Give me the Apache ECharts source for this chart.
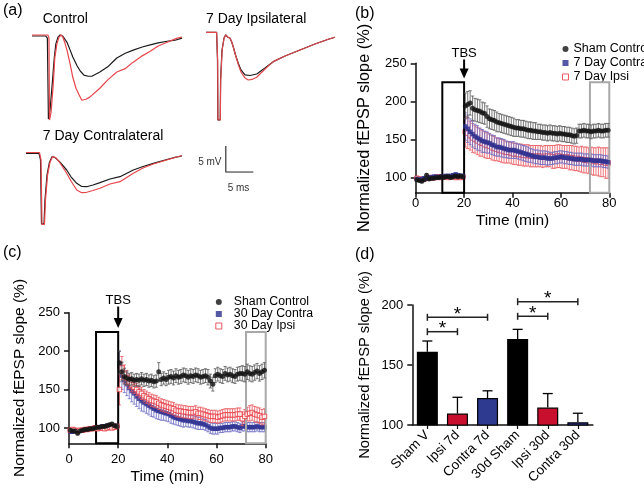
<!DOCTYPE html>
<html><head><meta charset="utf-8">
<script src="https://cdn.jsdelivr.net/npm/echarts@6/dist/echarts.min.js"></script>
<style>html,body{margin:0;padding:0;background:#fff}#c{width:644px;height:488px}</style>
</head><body><div id="c"></div>
<script>
// ================= DATA =================
// (a) representative fEPSP traces: [time (ms), voltage (mV)]
const ctrlBlack = [[0,0],[2.6,0],[2.9,-0.4],[3.1,-15.9],[3.4,-14.2],[3.8,-9.4],[4.2,-4.2],[4.5,-1.5],[4.9,-0.2],[5.3,0.2],[5.8,0],[6.6,-1.2],[7.2,-2.7],[7.7,-4.0],[8.5,-5.7],[9.1,-6.7],[9.8,-7.5],[10.6,-7.7],[11.3,-7.7],[12.8,-6.9],[14.3,-5.9],[16.0,-4.2],[17.6,-3.3],[19.1,-2.7],[20.8,-2.1],[22.3,-1.7],[23.8,-1.3],[25.5,-1.0],[27.0,-0.8],[28.3,-0.4]];
const ctrlRed = [[0,0.2],[3.0,0.2],[3.2,-0.4],[3.3,-16.1],[3.6,-14.6],[4.0,-9.4],[4.3,-4.2],[4.7,-1.5],[5.1,-0.2],[5.5,0.2],[5.8,-0.2],[6.2,-1.3],[6.6,-2.7],[7.2,-5.4],[7.7,-7.9],[8.3,-10.0],[8.9,-11.3],[9.4,-12.3],[10.2,-12.1],[10.9,-11.7],[12.8,-10.0],[14.3,-8.4],[16.0,-6.9],[17.5,-6.3],[19.1,-5.0],[20.8,-3.8],[22.3,-2.9],[23.8,-1.9],[25.5,-1.2],[27.4,-0.4],[28.3,-0.2]];
const ipsiBlack = [[0,0],[2.0,0],[2.17,-5.3],[2.23,-16.8],[2.68,-16.8],[2.75,-9.1],[3.02,-3.4],[3.40,-1.1],[3.72,-0.5],[4.06,-0.9],[4.53,-1.15],[4.85,-1.86],[5.15,-2.82],[5.57,-4.35],[6.09,-5.94],[6.60,-7.22],[7.36,-8.18],[8.30,-8.28],[9.57,-7.99],[11.13,-6.84],[12.70,-5.63],[14.91,-4.54],[17.74,-3.39],[20.57,-2.24],[23.08,-1.34],[24.34,-0.96]];
const ipsiRed = [[0,0],[2.0,0],[2.2,-5.3],[2.26,-16.8],[2.7,-16.8],[2.78,-9.1],[3.05,-3.4],[3.42,-1.1],[3.74,-0.5],[4.08,-0.9],[4.55,-1.15],[4.87,-1.9],[5.17,-2.9],[5.59,-4.45],[6.09,-6.17],[6.60,-7.61],[7.36,-8.75],[7.98,-9.14],[8.68,-9.04],[9.57,-8.62],[11.13,-7.03],[12.70,-5.63],[14.91,-4.54],[17.74,-3.39],[20.57,-2.24],[23.08,-1.34],[24.34,-0.96]];
const contraBlack = [[0,0],[2.45,0],[2.74,-1.28],[2.92,-13.5],[3.40,-13.5],[3.58,-8.9],[3.96,-4.2],[4.43,-1.7],[4.91,-0.65],[5.47,-0.8],[6.42,-1.7],[7.68,-3.2],[8.49,-4.5],[9.57,-5.75],[10.51,-6.36],[11.45,-6.4],[12.64,-6.07],[13.96,-5.63],[15.85,-4.92],[17.74,-4.48],[20.25,-3.2],[22.08,-2.53],[24.02,-1.92],[26.23,-1.28],[28.11,-0.8],[29.43,-0.52]];
const contraRed = [[0,0.15],[2.55,0.15],[2.83,-1.28],[3.02,-13.6],[3.49,-13.6],[3.68,-8.9],[4.06,-4.2],[4.53,-1.7],[5.0,-0.65],[5.57,-0.8],[6.42,-1.86],[7.68,-3.83],[8.49,-5.31],[9.57,-7.03],[10.51,-7.55],[11.45,-7.47],[12.64,-7.13],[13.96,-6.7],[15.85,-5.88],[17.74,-5.44],[20.25,-3.83],[22.08,-2.82],[24.02,-2.05],[26.23,-1.38],[28.11,-0.8],[29.43,-0.42]];
const scaleBar = [[0,5],[0,0],[5,0]];   // 5 mV x 5 ms

// (b), (c) time course: recording times (min)
const times = [0.5,1.5,2.5,3.5,4.5,5.5,6.5,7.5,8.5,9.5,10.5,11.5,12.5,13.5,14.5,15.5,16.5,17.5,18.5,19.5,
20.5,21.5,22.5,23.5,24.5,25.5,26.5,27.5,28.5,29.5,30.5,31.5,32.5,33.5,34.5,35.5,36.5,37.5,38.5,39.5,
40.5,41.5,42.5,43.5,44.5,45.5,46.5,47.5,48.5,49.5,50.5,51.5,52.5,53.5,54.5,55.5,56.5,57.5,58.5,59.5,
60.5,61.5,62.5,63.5,64.5,65.5,66.5,67.5,68.5,69.5,70.5,71.5,72.5,73.5,74.5,75.5,76.5,77.5,78.5,79.5];

// (b) 7 day
const shamB = [97,96,95,97,103,98,99,99,100,100,101,100,101,101,100,101,102,101,102,101,
194,196,198,191,189,188,187,185,184,180,177,176,175,173,172,171,170,169,168,167,
166,165,165,164,164,163,162,162,161,161,160,160,159,159,158,159,158,158,157,158,
157,157,156,156,155,154,155,161,161,162,161,161,160,161,161,162,161,161,162,162];
const shamBErr = [2,2,2,2,2,2,2,2,2,2,2,2,2,2,2,2,2,2,2,2,
17,17,16,16,15,15,15,14,14,14,13,13,13,13,12,12,12,12,12,12,
12,11,11,11,11,11,11,11,11,11,10,10,10,10,10,10,10,10,10,10,
10,10,10,10,10,10,10,9,9,9,9,9,9,9,9,9,9,9,9,9];
const contraB = [98,97,98,99,99,100,100,101,101,100,101,101,102,102,102,103,104,103,102,102,
167,164,160,157,154,152,150,148,147,146,145,143,142,140,140,139,138,137,136,136,
136,135,134,133,132,131,130,129,128,127,127,126,126,126,125,125,125,126,126,127,
127,126,126,125,125,124,124,124,124,123,123,123,123,122,122,122,122,121,121,120];
const contraBErr = [2,2,2,2,2,2,2,2,2,2,2,2,2,2,2,2,2,2,2,2,
18,18,17,17,16,16,15,15,14,14,13,13,13,12,12,12,12,11,11,11,
11,10,10,10,10,10,10,9,9,9,9,9,9,9,9,8,8,8,8,8,
8,8,8,8,8,8,8,8,8,8,8,8,8,8,8,8,8,8,8,8];
const ipsiB = [99,98,97,98,99,100,99,100,100,101,100,101,101,100,101,101,100,101,100,101,
160,158,155,152,150,148,146,145,143,142,141,139,138,137,136,135,134,133,133,132,
131,131,130,130,129,129,129,128,128,128,128,128,127,128,128,128,127,127,128,128,
127,127,127,126,126,125,125,124,124,123,123,122,122,121,121,121,120,120,119,119];
const ipsiBErr = [2,2,2,2,2,2,2,2,2,2,2,2,2,2,2,2,2,2,2,2,
20,20,19,19,18,18,18,17,17,17,16,16,16,15,15,15,15,14,14,14,
14,14,14,14,14,14,14,14,14,14,14,14,14,14,14,14,15,15,15,15,
15,15,15,16,16,16,16,16,17,17,17,17,18,18,18,19,19,19,20,20];

// (c) 30 day
const shamC = [97,96,96,93,96,97,98,98,99,99,100,101,101,102,102,103,104,105,103,102,
185,173,167,165,163,164,162,163,162,164,162,163,161,162,160,161,173,163,165,163,
166,167,165,168,166,167,169,168,166,168,167,169,168,166,167,168,166,161,157,168,
170,168,167,171,169,170,168,167,170,171,171,170,173,171,170,172,174,171,173,175];
const shamCErr = [2,2,2,2,2,2,2,2,2,2,2,2,2,2,2,2,2,2,2,2,
15,12,10,9,8,8,8,8,8,8,8,8,8,8,8,8,12,8,8,8,
9,9,9,9,9,9,9,9,9,9,9,9,9,9,9,9,10,9,9,9,
9,9,9,9,9,9,9,9,9,9,10,10,10,10,10,10,10,10,10,10];
const contraC = [95,95,96,96,97,97,98,98,99,99,100,101,101,102,102,103,103,102,102,103,
180,168,162,157,152,148,145,141,138,135,133,131,129,127,125,123,122,121,120,119,
118,116,114,113,112,111,110,110,109,109,108,107,106,106,105,104,102,100,99,99,
99,100,100,101,101,101,102,102,101,100,102,102,101,101,101,101,102,101,101,101];
const contraCErr = [2,2,2,2,2,2,2,2,2,2,2,2,2,2,2,2,2,2,2,2,
20,18,16,15,14,14,14,13,13,13,12,12,12,12,11,11,11,11,10,10,
10,10,9,9,9,9,9,8,8,8,8,8,8,8,7,7,7,7,7,7,
7,6,6,6,6,6,6,6,6,6,6,6,6,6,6,6,6,6,6,6];
const ipsiC = [97,98,97,96,97,97,98,98,99,99,100,99,100,100,99,100,101,100,101,102,
150,178,170,165,160,156,153,150,147,145,142,140,138,136,135,134,132,130,129,128,
127,126,125,123,122,122,121,121,120,120,120,121,119,119,118,117,116,115,115,115,
114,115,116,117,117,117,117,117,118,118,112,115,118,119,120,118,117,116,114,115];
const ipsiCErr = [2,2,2,2,2,2,2,2,2,2,2,2,2,2,2,2,2,2,2,2,
20,15,12,10,9,9,8,8,8,8,8,8,8,8,8,8,8,8,8,8,
8,8,8,8,8,8,8,8,8,8,8,8,8,8,8,8,8,8,8,8,
8,8,8,8,8,8,8,8,8,8,9,9,9,10,10,10,10,10,10,10];

// annotation windows (min) and TBS time
const baselineWin = [11, 20];
const ltpWin = [72, 80];
const boxTop = 225;
const tbsTime = 20;
const arrowB = [255, 230];
const arrowC = [258, 230];

// (d) summary bars
const groups = ['Sham V', 'Ipsi 7d', 'Contra 7d', '30d Sham', 'Ipsi 30d', 'Contra 30d'];
const means = [161, 109.5, 122.5, 171.7, 114.5, 102.3];
const sems = [9, 13.6, 6, 8, 11.7, 7.5];
const brackets = [[0, 1, 177.75], [0, 2, 189.75], [3, 4, 190.6], [3, 5, 202.75]];
const yTicksBC = [100, 150, 200, 250];

// ================= STYLE / BUILD =================
const FF = "'Liberation Sans', Arial, Helvetica, sans-serif";
const BLACK = '#111', BLUE = '#2a2e8e', RED = '#e8333c';
const barColors = ['#000', '#c8102e', '#2e3a8f', '#000', '#c8102e', '#2e3a8f'];

const chart = echarts.init(document.getElementById('c'), null, {renderer: 'canvas'});

function hiddenAxes(i, xr, yr) {
  return [
    {type: 'value', gridIndex: i, min: xr[0], max: xr[1], show: false},
    {type: 'value', gridIndex: i, min: yr[0], max: yr[1], show: false}
  ];
}
function trace(i, data, color, z) {
  return {type: 'line', xAxisIndex: i, yAxisIndex: i, data: data, showSymbol: false, symbol: 'none',
    lineStyle: {color: color, width: 1.2}, z: z, silent: true, animation: false};
}
function errSeries(ai, means, errs, color, z) {
  return {type: 'custom', xAxisIndex: ai, yAxisIndex: ai, silent: true, z: z, animation: false,
    data: times.map((t, i) => [t, means[i] - errs[i], means[i] + errs[i]]),
    encode: {x: 0, y: [1, 2]},
    renderItem: function (p, api) {
      const a = api.coord([api.value(0), api.value(2)]);
      const b = api.coord([api.value(0), api.value(1)]);
      const w = 1.6, st = {stroke: color, lineWidth: 0.8};
      return {type: 'group', children: [
        {type: 'line', shape: {x1: a[0], y1: a[1], x2: b[0], y2: b[1]}, style: st},
        {type: 'line', shape: {x1: a[0] - w, y1: a[1], x2: a[0] + w, y2: a[1]}, style: st},
        {type: 'line', shape: {x1: b[0] - w, y1: b[1], x2: b[0] + w, y2: b[1]}, style: st}
      ]};
    }};
}
function pts(ai, name, vals, kind, z) {
  const s = {type: 'scatter', name: name, xAxisIndex: ai, yAxisIndex: ai, z: z, animation: false,
    data: times.map((t, i) => [t, vals[i]])};
  if (kind === 'sham') { s.symbol = 'circle'; s.symbolSize = 5; s.itemStyle = {color: BLACK}; }
  if (kind === 'contra') { s.symbol = 'rect'; s.symbolSize = 4.5; s.itemStyle = {color: BLUE}; }
  if (kind === 'ipsi') { s.symbol = 'rect'; s.symbolSize = 4.5; s.itemStyle = {color: '#fff', borderColor: RED, borderWidth: 1}; }
  return s;
}
function boxes(ai) {
  return {type: 'custom', xAxisIndex: ai, yAxisIndex: ai, silent: true, z: 5, animation: false,
    data: [[baselineWin[0], baselineWin[1], boxTop, 0], [ltpWin[0], ltpWin[1], boxTop, 1]],
    encode: {x: [0, 1], y: 2},
    renderItem: function (p, api) {
      const a = api.coord([api.value(0), api.value(2)]);
      const b = api.coord([api.value(1), 80]);
      const gray = api.value(3) === 1;
      return {type: 'rect', shape: {x: a[0], y: a[1], width: b[0] - a[0], height: b[1] - a[1]},
        style: {fill: 'none', stroke: gray ? '#a8a8a8' : '#000', lineWidth: 2}};
    }};
}
function tbs(ai, arr) {
  return {type: 'custom', xAxisIndex: ai, yAxisIndex: ai, silent: true, z: 6, animation: false,
    data: [[tbsTime, arr[0], arr[1]]], encode: {x: 0, y: [1, 2]},
    renderItem: function (p, api) {
      const top = api.coord([api.value(0), api.value(1)]);
      const tip = api.coord([api.value(0), api.value(2)]);
      return {type: 'group', children: [
        {type: 'line', shape: {x1: top[0], y1: top[1], x2: tip[0], y2: tip[1] - 8}, style: {stroke: '#000', lineWidth: 2}},
        {type: 'polygon', shape: {points: [[tip[0] - 4.5, tip[1] - 10], [tip[0] + 4.5, tip[1] - 10], [tip[0], tip[1]]]}, style: {fill: '#000'}},
        {type: 'text', style: {text: 'TBS', x: top[0], y: top[1] - 6, align: 'center', verticalAlign: 'middle', font: '13px ' + FF, fill: '#000'}}
      ]};
    }};
}
function timeAxes(i, labelMargin, nameGapX, nameGapY, nameSizeY) {
  const axisLineStyle = {color: '#111', width: 1.5};
  return [
    {type: 'value', gridIndex: i, min: 0, max: 80, interval: 20,
      axisLine: {show: true, onZero: false, lineStyle: axisLineStyle},
      axisTick: {show: true, length: 5, lineStyle: axisLineStyle},
      axisLabel: {fontSize: 13, margin: labelMargin, color: '#000', fontFamily: FF},
      splitLine: {show: false},
      name: 'Time (min)', nameLocation: 'middle', nameGap: nameGapX,
      nameTextStyle: {fontSize: 15.5, color: '#000', fontFamily: FF}},
    {type: 'value', gridIndex: i, min: 80, max: 250,
      axisLine: {show: true, onZero: false, lineStyle: axisLineStyle},
      axisTick: {show: true, length: 5, lineStyle: axisLineStyle, customValues: yTicksBC},
      axisLabel: {fontSize: 13, margin: 9, color: '#000', fontFamily: FF, customValues: yTicksBC},
      splitLine: {show: false},
      name: 'Normalized fEPSP slope (%)', nameLocation: 'middle', nameGap: nameGapY,
      nameTextStyle: {fontSize: nameSizeY, color: '#000', fontFamily: FF}}
  ];
}

const axB = timeAxes(4, 4, 20, 43, 16.3);
const axC = timeAxes(5, 10, 25, 41, 15.5);

const ax0 = hiddenAxes(0, [0, 29], [-17, 1]);
const ax1 = hiddenAxes(1, [0, 25], [-17, 0.8]);
const ax2 = hiddenAxes(2, [0, 30], [-14, 0.8]);
const ax3 = hiddenAxes(3, [0, 5], [0, 5]);

const axD = [
  {type: 'category', gridIndex: 6, data: groups, boundaryGap: true,
    axisLine: {show: true, lineStyle: {color: '#111', width: 1.5}},
    axisTick: {show: true, alignWithLabel: true, length: 4, lineStyle: {color: '#111', width: 1.2}},
    axisLabel: {rotate: 45, interval: 0, fontSize: 13.5, margin: 8, color: '#000', fontFamily: FF}},
  {type: 'value', gridIndex: 6, min: 100, max: 200, interval: 50,
    axisLine: {show: true, lineStyle: {color: '#111', width: 1.5}},
    axisTick: {show: true, length: 5, lineStyle: {color: '#111', width: 1.5}},
    axisLabel: {fontSize: 13, margin: 9, color: '#000', fontFamily: FF},
    splitLine: {show: false},
    name: 'Normalized fEPSP slope (%)', nameLocation: 'middle', nameGap: 40,
    nameTextStyle: {fontSize: 14.7, color: '#000', fontFamily: FF}}
];

const g = (l, t, w, h) => ({left: l, top: t, width: w, height: h, containLabel: false, outerBoundsMode: 'none'});

const legendCommon = {orient: 'vertical', selectedMode: false, itemWidth: 6, itemHeight: 6, itemGap: 0};

const option = {
  animation: false,
  backgroundColor: '#fff',
  textStyle: {fontFamily: FF},
  grid: [
    g(32, 30.8, 153.7, 94),
    g(206, 28.1, 132.5, 92.9),
    g(26, 149.1, 159, 77.3),
    g(225.8, 146, 27.5, 26.2),
    g(415.7, 63.3, 193.6, 129.4),
    g(69, 312.7, 196.7, 130.6),
    g(412.3, 305, 180.6, 120)
  ],
  xAxis: [ax0[0], ax1[0], ax2[0], ax3[0], axB[0], axC[0], axD[0]],
  yAxis: [ax0[1], ax1[1], ax2[1], ax3[1], axB[1], axC[1], axD[1]],
  legend: [
    Object.assign({}, legendCommon, {left: 557, top: 37,
      textStyle: {fontSize: 12.5, lineHeight: 14, color: '#000', fontFamily: FF},
      data: [{name: 'Sham Control', icon: 'circle', itemStyle: {color: BLACK}},
             {name: '7 Day Contra', icon: 'rect', itemStyle: {color: BLUE}},
             {name: '7 Day Ipsi', icon: 'rect', itemStyle: {color: '#fff', borderColor: RED, borderWidth: 1}}]}),
    Object.assign({}, legendCommon, {left: 210.3, top: 291,
      textStyle: {fontSize: 12.3, lineHeight: 11.7, color: '#000', fontFamily: FF, padding: [0, 0, 0, 7]},
      data: [{name: 'Sham Control', icon: 'circle', itemStyle: {color: BLACK}},
             {name: '30 Day Contra', icon: 'rect', itemStyle: {color: BLUE}},
             {name: '30 Day Ipsi', icon: 'rect', itemStyle: {color: '#fff', borderColor: RED, borderWidth: 1}}]})
  ],
  graphic: [
    {type: 'text', x: 3, y: 11, style: {text: '(a)', font: '16px ' + FF, fill: '#000', verticalAlign: 'middle'}},
    {type: 'text', x: 355, y: 13.3, style: {text: '(b)', font: '16px ' + FF, fill: '#000', verticalAlign: 'middle'}},
    {type: 'text', x: 3, y: 253, style: {text: '(c)', font: '16px ' + FF, fill: '#000', verticalAlign: 'middle'}},
    {type: 'text', x: 355, y: 255, style: {text: '(d)', font: '16px ' + FF, fill: '#000', verticalAlign: 'middle'}},
    {type: 'text', x: 42.7, y: 19.3, style: {text: 'Control', font: '14px ' + FF, fill: '#000', verticalAlign: 'middle'}},
    {type: 'text', x: 206, y: 19.3, style: {text: '7 Day Ipsilateral', font: '14px ' + FF, fill: '#000', verticalAlign: 'middle'}},
    {type: 'text', x: 42.7, y: 136, style: {text: '7 Day Contralateral', font: '14px ' + FF, fill: '#000', verticalAlign: 'middle'}},
    {type: 'text', x: 221.5, y: 162.7, style: {text: '5 mV', font: '10px ' + FF, fill: '#333', align: 'right', verticalAlign: 'middle'}},
    {type: 'text', x: 227.7, y: 188.3, style: {text: '5 ms', font: '10px ' + FF, fill: '#333', verticalAlign: 'middle'}}
  ],
  series: [
    trace(0, ctrlBlack, '#1a1a1a', 2), trace(0, ctrlRed, '#e8454a', 3),
    trace(1, ipsiBlack, '#1a1a1a', 2), trace(1, ipsiRed, '#e0484c', 3),
    trace(2, contraBlack, '#1a1a1a', 2), trace(2, contraRed, '#e8454a', 3),
    {type: 'line', xAxisIndex: 3, yAxisIndex: 3, data: scaleBar, showSymbol: false, symbol: 'none',
      lineStyle: {color: '#333', width: 1.2}, silent: true},

    // (b)
    errSeries(4, ipsiB, ipsiBErr, '#e8555c', 2), pts(4, '7 Day Ipsi', ipsiB, 'ipsi', 3),
    errSeries(4, contraB, contraBErr, '#6a6ac4', 4), pts(4, '7 Day Contra', contraB, 'contra', 5),
    errSeries(4, shamB, shamBErr, '#555', 6), pts(4, 'Sham Control', shamB, 'sham', 7),
    boxes(4), tbs(4, arrowB),

    // (c)
    errSeries(5, contraC, contraCErr, '#6a6ac4', 2), pts(5, '30 Day Contra', contraC, 'contra', 3),
    errSeries(5, ipsiC, ipsiCErr, '#e8555c', 4), pts(5, '30 Day Ipsi', ipsiC, 'ipsi', 5),
    errSeries(5, shamC, shamCErr, '#555', 6), pts(5, 'Sham Control', shamC, 'sham', 7),
    boxes(5), tbs(5, arrowC),

    // (d)
    {type: 'bar', xAxisIndex: 6, yAxisIndex: 6, barWidth: 21, z: 3,
      data: means.map((v, i) => ({value: v, itemStyle: {color: barColors[i], borderColor: '#000', borderWidth: 1.2}}))},
    {type: 'custom', xAxisIndex: 6, yAxisIndex: 6, silent: true, z: 2,
      data: means.map((v, i) => [i, v, v + sems[i]]), encode: {x: 0, y: [1, 2]},
      renderItem: function (p, api) {
        const a = api.coord([api.value(0), api.value(2)]);
        const b = api.coord([api.value(0), api.value(1)]);
        const st = {stroke: '#000', lineWidth: 1.3};
        return {type: 'group', children: [
          {type: 'line', shape: {x1: a[0], y1: a[1], x2: b[0], y2: b[1]}, style: st},
          {type: 'line', shape: {x1: a[0] - 5, y1: a[1], x2: a[0] + 5, y2: a[1]}, style: st}
        ]};
      }},
    {type: 'custom', xAxisIndex: 6, yAxisIndex: 6, silent: true, z: 4,
      data: brackets, encode: {x: [0, 1], y: 2},
      renderItem: function (p, api) {
        const a = api.coord([api.value(0), api.value(2)]);
        const b = api.coord([api.value(1), api.value(2)]);
        const st = {stroke: '#222', lineWidth: 1.5};
        return {type: 'group', children: [
          {type: 'line', shape: {x1: a[0], y1: a[1], x2: b[0], y2: b[1]}, style: st},
          {type: 'line', shape: {x1: a[0], y1: a[1] - 3.5, x2: a[0], y2: a[1] + 3.5}, style: st},
          {type: 'line', shape: {x1: b[0], y1: b[1] - 3.5, x2: b[0], y2: b[1] + 3.5}, style: st},
          {type: 'text', style: {text: '*', x: (a[0] + b[0]) / 2, y: a[1] - 3, align: 'center', verticalAlign: 'middle', font: '19px ' + FF, fill: '#000'}}
        ]};
      }}
  ]
};
chart.setOption(option);
</script>
</body></html>
